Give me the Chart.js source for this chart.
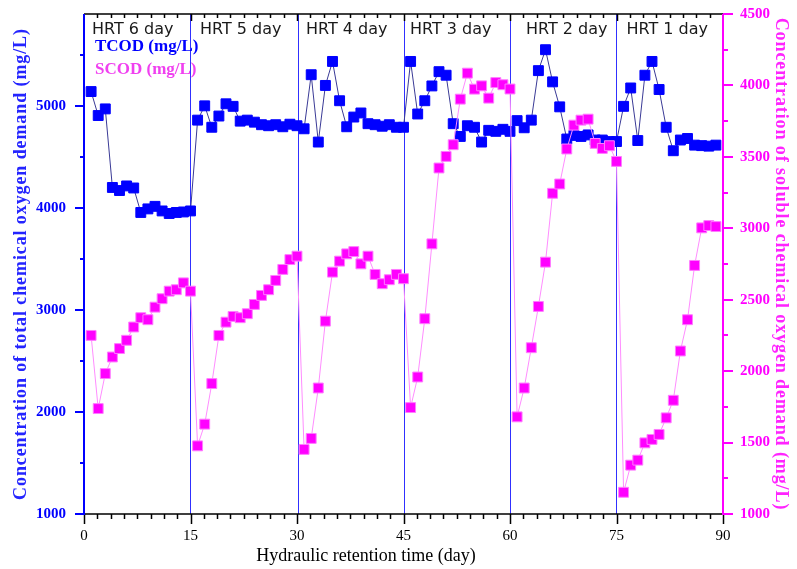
<!DOCTYPE html>
<html>
<head>
<meta charset="utf-8">
<script src="https://cdn.jsdelivr.net/npm/chart.js@4.4.1/dist/chart.umd.min.js"></script>
<style>
  html, body { margin: 0; padding: 0; background: #fff; }
  #wrap { width: 797px; height: 569px; }
</style>
</head>
<body>
<div id="wrap"><canvas id="codChart" width="797" height="569"></canvas></div>
<script>
const days = [1, 2, 3, 4, 5, 6, 7, 8, 9, 10, 11, 12, 13, 14, 15,
  16, 17, 18, 19, 20, 21, 22, 23, 24, 25, 26, 27, 28, 29, 30,
  31, 32, 33, 34, 35, 36, 37, 38, 39, 40, 41, 42, 43, 44, 45,
  46, 47, 48, 49, 50, 51, 52, 53, 54, 55, 56, 57, 58, 59, 60,
  61, 62, 63, 64, 65, 66, 67, 68, 69, 70, 71, 72, 73, 74, 75,
  76, 77, 78, 79, 80, 81, 82, 83, 84, 85, 86, 87, 88, 89];

const tcod = [5140, 4905, 4970, 4200, 4170, 4215, 4195, 3955, 3990, 4015, 3970, 3945, 3955, 3960, 3970,
  4860, 5000, 4790, 4900, 5020, 4995, 4850, 4860, 4840, 4815, 4805, 4815, 4795, 4820, 4805,
  4775, 5305, 4645, 5200, 5435, 5050, 4795, 4890, 4930, 4825, 4815, 4800, 4815, 4790, 4790,
  5435, 4920, 5050, 5195, 5335, 5300, 4825, 4700, 4805, 4790, 4645, 4760, 4750, 4770, 4750,
  4855, 4785, 4860, 5345, 5550, 5235, 4990, 4675, 4710, 4700, 4715, 4665, 4665, 4650, 4650,
  4995, 5175, 4660, 5300, 5435, 5160, 4790, 4560, 4665, 4680, 4615, 4610, 4605, 4615];

const scod = [2250, 1738, 1983, 2099, 2158, 2216, 2309, 2374, 2360, 2448, 2507, 2560, 2570, 2618, 2560,
  1477, 1629, 1913, 2250, 2343, 2383, 2374, 2402, 2467, 2530, 2570, 2635, 2712, 2781, 2805,
  1452, 1529, 1882, 2350, 2693, 2770, 2821, 2837, 2751, 2805, 2677, 2612, 2640, 2677, 2647,
  1745, 1959, 2367, 2891, 3422, 3503, 3585, 3904, 4086, 3974, 3997, 3911, 4020, 4005, 3975,
  1680, 1882, 2164, 2453, 2763, 3245, 3310, 3555, 3722, 3757, 3764, 3594, 3559, 3578, 3468,
  1152, 1342, 1377, 1498, 1522, 1557, 1673, 1796, 2141, 2360, 2740, 3003, 3019, 3012];

const xTicks = [0, 15, 30, 45, 60, 75, 90];
const leftTicks = [1000, 2000, 3000, 4000, 5000];
const rightTicks = [1000, 1500, 2000, 2500, 3000, 3500, 4000, 4500];
const hrtStarts = [0, 15, 30, 45, 60, 75];
const hrtLabels = ['HRT 6 day', 'HRT 5 day', 'HRT 4 day', 'HRT 3 day', 'HRT 2 day', 'HRT 1 day'];

const SERIF = '"Liberation Serif", "Times New Roman", serif';
const BLUE = '#0000ff';
const PINK = '#ff00ff';

const titles = {
  x: 'Hydraulic retention time (day)',
  y: 'Concentration of total chemical oxygen demand (mg/L)',
  y1: 'Concentration of soluble chemical oxygen demand (mg/L)'
};

// HRT separators under the data
const separatorPlugin = {
  id: 'separators',
  beforeDatasetsDraw(chart) {
    const ctx = chart.ctx;
    const {top, bottom} = chart.chartArea;
    const x = chart.scales.x;
    ctx.save();
    ctx.strokeStyle = '#3030ff';
    ctx.lineWidth = 1;
    ctx.beginPath();
    hrtStarts.slice(1).forEach(v => {
      // keep on even columns so the thin blue line stays blue in the photo
      const px = 2 * Math.round(x.getPixelForValue(v) / 2) + 0.5;
      ctx.moveTo(px, top); ctx.lineTo(px, bottom);
    });
    ctx.stroke();
    ctx.restore();
  }
};

// axes frame, minor ticks, HRT labels, legend text, titles
const framePlugin = {
  id: 'frame',
  afterDatasetsDraw(chart) {
    const ctx = chart.ctx;
    const {left, right, top, bottom} = chart.chartArea;
    const x = chart.scales.x, y = chart.scales.y, y1 = chart.scales.y1;
    ctx.save();

    ctx.strokeStyle = '#000';
    ctx.lineWidth = 1.5;
    ctx.beginPath();
    ctx.moveTo(left - 1, bottom); ctx.lineTo(right, bottom);
    ctx.moveTo(left, top); ctx.lineTo(right, top);
    for (let i = 0; i <= 48; i++) {
      const px = Math.round(x.getPixelForValue(i * 1.875)) + 0.5;
      const major = i % 8 === 0;
      ctx.moveTo(px, bottom); ctx.lineTo(px, bottom + (major ? 10 : 5));
      if (i > 0 && i < 48) { ctx.moveTo(px, top); ctx.lineTo(px, top + (major ? 7 : 4)); }
    }
    ctx.stroke();

    ctx.strokeStyle = BLUE;
    ctx.lineWidth = 2;
    ctx.beginPath();
    ctx.moveTo(left, top); ctx.lineTo(left, bottom + 1);
    for (let v = 1000; v <= 5500; v += 500) {
      const py = Math.round(y.getPixelForValue(v));
      ctx.moveTo(left, py); ctx.lineTo(left - (v % 1000 === 0 ? 9 : 4), py);
    }
    ctx.stroke();

    ctx.strokeStyle = PINK;
    ctx.beginPath();
    ctx.moveTo(right, top); ctx.lineTo(right, bottom + 1);
    for (let v = 1000; v <= 4500; v += 250) {
      const py = Math.round(y1.getPixelForValue(v));
      ctx.moveTo(right, py); ctx.lineTo(right + (v % 500 === 0 ? 10 : 5), py);
    }
    ctx.stroke();

    // HRT labels
    const offs = [8, 9.5, 9, 6.5, 16, 10];
    ctx.font = '16px "DejaVu Sans", sans-serif';
    ctx.fillStyle = '#1a1a1a';
    ctx.textBaseline = 'middle';
    ctx.textAlign = 'left';
    hrtLabels.forEach((t, i) => ctx.fillText(t, x.getPixelForValue(hrtStarts[i]) + offs[i], top + 16));

    // legend texts
    ctx.font = 'bold 17px ' + SERIF;
    const ds = chart.data.datasets;
    ctx.fillStyle = BLUE;
    ctx.fillText(ds[1].label, left + 11, 47);
    ctx.fillStyle = '#f040f0';
    ctx.fillText(ds[0].label, left + 11, 70);

    // x title
    ctx.font = '18px ' + SERIF;
    ctx.fillStyle = '#000';
    ctx.textAlign = 'center';
    ctx.fillText(titles.x, 366, 556);

    // y titles
    const midY = (top + bottom) / 2;
    ctx.font = 'bold 18px ' + SERIF;
    ctx.letterSpacing = '0.9px';
    ctx.save();
    ctx.translate(21, midY);
    ctx.rotate(-Math.PI / 2);
    ctx.fillStyle = '#2424ff';
    ctx.fillText(titles.y, 0, 0);
    ctx.restore();
    ctx.save();
    ctx.translate(781, midY);
    ctx.rotate(Math.PI / 2);
    ctx.fillStyle = '#ff24ff';
    ctx.fillText(titles.y1, 0, 0);
    ctx.restore();
    ctx.restore();
  }
};

new Chart(document.getElementById('codChart'), {
  type: 'line',
  data: {
    datasets: [{
      label: 'SCOD (mg/L)',
      data: days.map((d, i) => ({x: d, y: scod[i]})),
      yAxisID: 'y1',
      order: 1,
      borderColor: '#ff8cff',
      borderWidth: 1,
      backgroundColor: PINK,
      pointStyle: 'rect',
      pointRadius: 7,
      pointBackgroundColor: PINK,
      pointBorderColor: '#ff7cff',
      pointBorderWidth: 1,
      tension: 0
    }, {
      label: 'TCOD (mg/L)',
      data: days.map((d, i) => ({x: d, y: tcod[i]})),
      yAxisID: 'y',
      order: 2,
      borderColor: '#3a3a96',
      borderWidth: 1,
      backgroundColor: BLUE,
      pointStyle: 'rect',
      pointRadius: 7,
      pointBackgroundColor: BLUE,
      pointBorderColor: BLUE,
      pointBorderWidth: 1,
      tension: 0
    }]
  },
  options: {
    responsive: false,
    animation: false,
    devicePixelRatio: 1,
    layout: { padding: { top: 14, left: 0, right: 0, bottom: 0 } },
    plugins: { legend: { display: false }, tooltip: { enabled: false } },
    scales: {
      x: {
        type: 'linear', min: 0, max: 90,
        afterBuildTicks: s => { s.ticks = xTicks.map(v => ({value: v})); },
        afterFit: s => { s.height = 55; s.paddingLeft = 0; s.paddingRight = 0; },
        border: { display: false },
        grid: { display: false, drawTicks: false },
        ticks: {
          padding: 13, color: '#000', maxRotation: 0, autoSkip: false,
          font: { family: SERIF, size: 15 },
          callback: v => String(v)
        }
      },
      y: {
        position: 'left', min: 1000, max: 5900,
        afterBuildTicks: s => { s.ticks = leftTicks.map(v => ({value: v})); },
        afterFit: s => { s.width = 84; s.paddingTop = 0; s.paddingBottom = 0; },
        border: { display: false },
        grid: { display: false, drawTicks: false },
        ticks: {
          padding: 18, color: BLUE,
          font: { family: SERIF, size: 15, weight: 'bold' },
          callback: v => String(v)
        }
      },
      y1: {
        position: 'right', min: 1000, max: 4500,
        afterBuildTicks: s => { s.ticks = rightTicks.map(v => ({value: v})); },
        afterFit: s => { s.width = 74; s.paddingTop = 0; s.paddingBottom = 0; },
        border: { display: false },
        grid: { display: false, drawTicks: false },
        ticks: {
          padding: 17, color: PINK,
          font: { family: SERIF, size: 15, weight: 'bold' },
          callback: v => String(v)
        }
      }
    }
  },
  plugins: [separatorPlugin, framePlugin]
});
</script>
</body>
</html>
